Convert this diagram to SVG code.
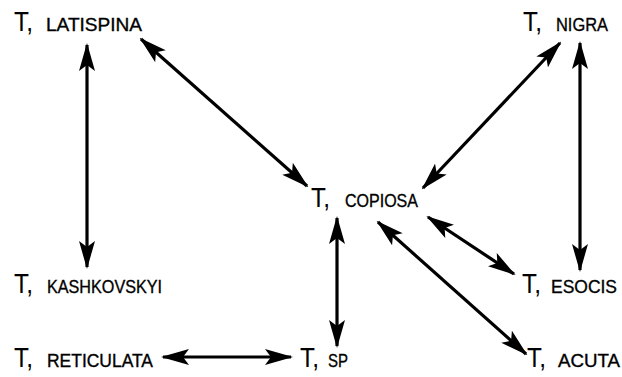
<svg xmlns="http://www.w3.org/2000/svg" width="622" height="377" viewBox="0 0 622 377">
<style>
.l{font-family:"Liberation Sans",Arial,sans-serif;fill:#000}
.t{font-size:28px}
.n{font-size:18.5px;stroke:#000;stroke-width:0.35}
.c line{stroke:#000;stroke-width:3.2;marker-start:url(#ah);marker-end:url(#ah)}
</style>
<defs>
<marker id="ah" viewBox="0 0 28 16" refX="26" refY="8" markerWidth="28" markerHeight="16" markerUnits="userSpaceOnUse" orient="auto-start-reverse">
<path d="M0,0 L28,8 L0,16 L6,8 Z" fill="#000"/>
</marker>
</defs>
<rect width="622" height="377" fill="#fff"/>
<g class="c" id="connectors">
<line x1="87" y1="45" x2="87" y2="267"/>
<line x1="141" y1="39" x2="307" y2="186"/>
<line x1="560" y1="43" x2="423" y2="188"/>
<line x1="580" y1="43" x2="580" y2="270"/>
<line x1="337" y1="218" x2="337" y2="346"/>
<line x1="428" y1="217" x2="514" y2="274"/>
<line x1="378" y1="222" x2="526" y2="354"/>
<line x1="163" y1="357" x2="291" y2="357"/>
</g>
<g id="latispina"><text class="l" y="31"><tspan class="t" x="14" textLength="19" lengthAdjust="spacingAndGlyphs">T,</tspan><tspan class="n" x="46" textLength="96" lengthAdjust="spacingAndGlyphs">LATISPINA</tspan></text></g>
<g id="nigra"><text class="l" y="31"><tspan class="t" x="523" textLength="19" lengthAdjust="spacingAndGlyphs">T,</tspan><tspan class="n" x="556" textLength="52" lengthAdjust="spacingAndGlyphs">NIGRA</tspan></text></g>
<g id="copiosa"><text class="l" y="207"><tspan class="t" x="311" textLength="19" lengthAdjust="spacingAndGlyphs">T,</tspan><tspan class="n" x="345" textLength="73" lengthAdjust="spacingAndGlyphs">COPIOSA</tspan></text></g>
<g id="kashkovskyi"><text class="l" y="293"><tspan class="t" x="14" textLength="19" lengthAdjust="spacingAndGlyphs">T,</tspan><tspan class="n" x="47" textLength="115" lengthAdjust="spacingAndGlyphs">KASHKOVSKYI</tspan></text></g>
<g id="esocis"><text class="l" y="293"><tspan class="t" x="522" textLength="19" lengthAdjust="spacingAndGlyphs">T,</tspan><tspan class="n" x="551" textLength="66" lengthAdjust="spacingAndGlyphs">ESOCIS</tspan></text></g>
<g id="reticulata"><text class="l" y="367"><tspan class="t" x="14" textLength="19" lengthAdjust="spacingAndGlyphs">T,</tspan><tspan class="n" x="47" textLength="106" lengthAdjust="spacingAndGlyphs">RETICULATA</tspan></text></g>
<g id="sp"><text class="l" y="367"><tspan class="t" x="300" textLength="19" lengthAdjust="spacingAndGlyphs">T,</tspan><tspan class="n" x="328" textLength="20" lengthAdjust="spacingAndGlyphs">SP</tspan></text></g>
<g id="acuta"><text class="l" y="367"><tspan class="t" x="527" textLength="19" lengthAdjust="spacingAndGlyphs">T,</tspan><tspan class="n" x="558" textLength="62" lengthAdjust="spacingAndGlyphs">ACUTA</tspan></text></g>
</svg>
